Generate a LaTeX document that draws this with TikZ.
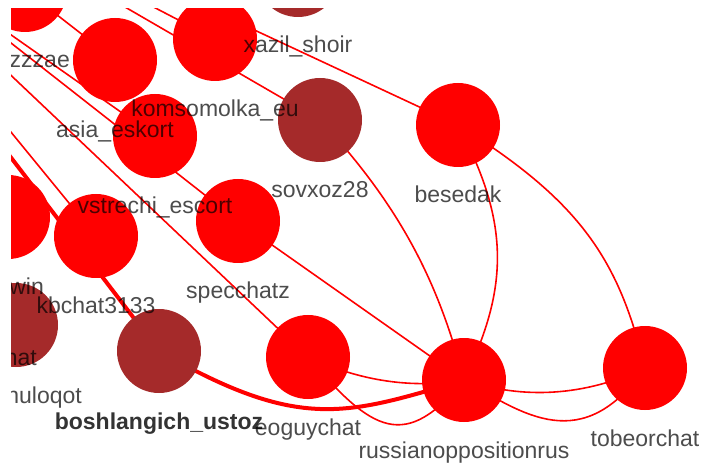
\documentclass[tikz,border=0pt]{standalone}
\usepackage{fontspec}
\setmainfont{Liberation Sans}
\usetikzlibrary{backgrounds}
\definecolor{nodered}{HTML}{FF0000}
\definecolor{nodebrown}{HTML}{A52A2A}
\begin{document}
\begin{tikzpicture}[x=1pt,y=-1pt,
  vnode/.style={circle,inner sep=0pt,minimum size=84pt,draw=none},
  rednode/.style={vnode,fill=nodered},
  brownnode/.style={vnode,fill=nodebrown},
  lbl/.style={anchor=base,inner sep=0pt,text=black,text opacity=0.7,font=\fontsize{23}{27}\selectfont},
  lble/.style={lbl,anchor=base east},
  boldlbl/.style={lbl,text opacity=0.8,font=\fontsize{23}{27}\selectfont\bfseries},
  edgeline/.style={draw=nodered,line width=1.6pt},
  thickedge/.style={draw=nodered,line width=4pt}]
\useasboundingbox (0,0) rectangle (702,465);
\begin{scope}
\clip (11,9) rectangle (702,465);
% off-screen ends
\coordinate (offSov) at (-20,-77);
\coordinate (offKom) at (40,-52);
\coordinate (offBes) at (100,-42);
\coordinate (offVst) at (-40,-1);
\coordinate (offSpe) at (-40,3);
\coordinate (offEog) at (-40,27);
\coordinate (offKb) at (-30,82);
\coordinate (offBo) at (-30,104);
% nodes
\node[rednode] (n1) at (25,-10) {};
\node[rednode] (asia) at (115,60) {};
\node[rednode] (kom) at (215,39) {};
\node[brownnode] (xaz) at (298,-25) {};
\node[brownnode] (sov) at (320,120) {};
\node[rednode] (bes) at (458,125) {};
\node[rednode] (vst) at (155,136) {};
\node[rednode] (n9) at (8,217) {};
\node[rednode] (kb) at (96,236) {};
\node[rednode] (spe) at (238,221) {};
\node[brownnode] (n12) at (16,325) {};
\node[brownnode] (bos) at (159,351) {};
\node[rednode] (eog) at (308,357) {};
\node[rednode] (rus) at (464,380) {};
\node[rednode] (tob) at (645,368) {};
% labels
\node[lble] (n1-l) at (70,68) {zzzae};
\node[lbl] (asia-l) at (115,138) {asia\_eskort};
\node[lbl] (kom-l) at (215,117) {komsomolka\_eu};
\node[lbl] (xaz-l) at (298,53) {xazil\_shoir};
\node[lbl] (sov-l) at (320,198) {sovxoz28};
\node[lbl] (bes-l) at (458,203) {besedak};
\node[lbl] (vst-l) at (155,214) {vstrechi\_escort};
\node[lble] (n9-l) at (44,295) {win};
\node[lbl] (kb-l) at (96,314) {kbchat3133};
\node[lbl] (spe-l) at (238,299) {specchatz};
\node[lble] (hat-l) at (37,365) {hat};
\node[lble] (n12-l) at (82,403) {nuloqot};
\node[lbl] (eog-l) at (308,435) {eoguychat};
\node[boldlbl] (bos-l) at (159,429) {boshlangich\_ustoz};
\node[lbl] (rus-l) at (464,458) {russianoppositionrus};
\node[lbl] (tob-l) at (645,446) {tobeorchat};
\end{scope}
\begin{scope}[on background layer]
\clip (11,9) rectangle (702,465);
\draw[edgeline] (offSov) -- (sov.center);
\draw[edgeline] (offKom) -- (kom.center);
\draw[edgeline] (offBes) -- (bes.center);
\draw[edgeline] (n1.center) -- (asia.center);
\draw[edgeline] (offVst) -- (vst.center);
\draw[edgeline] (offSpe) -- (spe.center);
\draw[edgeline] (offEog) -- (eog.center);
\draw[edgeline] (offKb) -- (kb.center);
\draw[thickedge] (offBo) -- (bos.center);
\draw[edgeline] (spe.center) -- (rus.center);
\draw[edgeline] (sov.center) .. controls (405,211) and (440,289) .. (rus.center);
\draw[edgeline] (bes.center) .. controls (509,221) and (510,286) .. (rus.center);
\draw[edgeline] (bes.center) .. controls (582,202) and (619,261) .. (tob.center);
\draw[edgeline] (eog.center) .. controls (360,381) and (412,389) .. (rus.center);
\draw[edgeline] (eog.center) .. controls (372,432) and (405,452) .. (rus.center);
\draw[thickedge] (bos.center) .. controls (300,432) and (346,415) .. (rus.center);
\draw[edgeline] (rus.center) .. controls (524,400) and (585,396) .. (tob.center);
\draw[edgeline] (rus.center) .. controls (523,414) and (582,457) .. (tob.center);
\end{scope}
\end{tikzpicture}
\end{document}
